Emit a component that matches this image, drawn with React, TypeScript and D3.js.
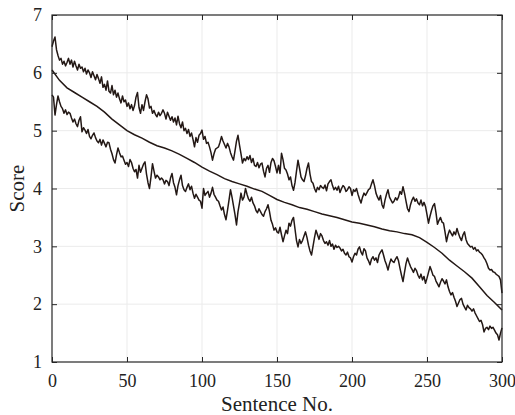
import React, { useEffect, useRef } from "react";
import * as d3 from "d3";

// upper noisy curve, one value per sentence (0..300)
const upperScores = [
  6.45, 6.55, 6.62, 6.4, 6.3, 6.22, 6.25, 6.15, 6.2, 6.12,
  6.18, 6.25, 6.15, 6.22, 6.1, 6.2, 6.12, 6.05, 6.15, 6.08,
  6.1, 6.02, 6.08, 5.98, 6.05, 6.0, 5.92, 6.02, 5.95, 5.88,
  5.97, 5.9, 5.82, 5.93, 5.75, 5.8, 5.7, 5.86, 5.68, 5.65,
  5.78, 5.62, 5.7, 5.58, 5.65, 5.55, 5.48, 5.6, 5.5, 5.53,
  5.42, 5.48, 5.38, 5.45, 5.35, 5.43, 5.58, 5.66, 5.4, 5.3,
  5.45, 5.35, 5.5, 5.62, 5.55, 5.39, 5.42, 5.3, 5.35, 5.28,
  5.24, 5.32, 5.26, 5.3, 5.36, 5.3, 5.2, 5.32, 5.25, 5.18,
  5.24, 5.15, 5.22, 5.1, 5.25, 5.12, 5.05, 5.15, 5.0, 5.04,
  4.95, 5.02, 4.9, 4.96, 4.85, 4.72, 4.88, 4.8, 4.92, 4.95,
  5.01, 4.85, 4.9, 4.78, 4.8, 4.72, 4.62, 4.49, 4.6, 4.68,
  4.7, 4.72, 4.8, 4.9, 4.82, 4.76, 4.7, 4.78, 4.72, 4.62,
  4.55, 4.49, 4.65, 4.82, 4.92, 4.75, 4.6, 4.44, 4.52, 4.48,
  4.55, 4.5, 4.57, 4.45, 4.52, 4.4, 4.38, 4.45, 4.36, 4.42,
  4.44, 4.3, 4.2, 4.35, 4.4, 4.28, 4.45, 4.52, 4.48, 4.38,
  4.27, 4.4, 4.26, 4.61, 4.5, 4.35, 4.32, 4.25, 4.15, 4.2,
  4.05, 3.97, 4.1, 4.3, 4.49, 4.35, 4.2, 4.15, 4.12, 4.22,
  4.35, 4.44, 4.25, 4.12, 4.09, 4.0, 3.94, 4.02, 3.98, 4.05,
  4.02, 4.0, 4.06, 3.96, 4.08, 4.12, 4.15, 4.05, 3.98, 4.02,
  3.97, 4.04, 3.93, 4.0, 4.05, 4.02, 3.95, 3.98, 4.03, 4.0,
  3.88, 3.98, 3.95, 4.0, 3.9, 3.82, 3.75, 3.85, 3.92, 3.88,
  3.93, 3.98, 4.0, 4.08, 4.15, 4.05, 3.92, 3.85, 3.8, 3.88,
  3.72, 3.66, 3.8, 3.9, 3.98, 3.85, 3.8, 3.75, 3.78, 3.84,
  3.8, 3.85, 3.95, 3.9, 4.03, 3.92, 3.78, 3.65, 3.6, 3.72,
  3.8, 3.85, 3.78, 3.82, 3.75, 3.72, 3.8, 3.7, 3.76, 3.69,
  3.55, 3.4, 3.52, 3.62, 3.7, 3.74, 3.58, 3.38, 3.45, 3.5,
  3.42, 3.4, 3.25, 3.08, 3.2, 3.28, 3.23, 3.18, 3.25, 3.2,
  3.31, 3.22, 3.15, 3.1, 3.2, 3.25, 3.12, 3.05, 3.02, 2.99,
  3.0, 2.95, 2.98, 2.92, 2.94, 2.9, 2.88, 2.85, 2.8, 2.76,
  2.7, 2.62, 2.59, 2.6, 2.56, 2.55, 2.52, 2.5, 2.48, 2.42,
  2.19,
];

// lower noisy curve
const lowerScores = [
  5.62, 5.58, 5.27, 5.45, 5.6, 5.5, 5.42, 5.38, 5.3, 5.36,
  5.28, 5.32, 5.3, 5.22, 5.15, 5.2, 5.12, 5.07, 5.18, 5.24,
  4.98, 5.05, 5.01, 4.95, 5.02, 4.9, 4.86, 4.92, 4.96, 4.88,
  4.82, 4.79, 4.85, 4.75, 4.84, 4.78, 4.72, 4.8, 4.79, 4.68,
  4.6, 4.5, 4.44, 4.58, 4.7, 4.62, 4.55, 4.56, 4.49, 4.42,
  4.45, 4.38, 4.5, 4.45, 4.35, 4.29, 4.33, 4.18, 4.4, 4.28,
  4.35, 4.42, 4.46, 4.25, 4.1, 4.0, 4.2, 4.43, 4.3, 4.18,
  4.23, 4.2, 4.15, 4.18, 4.15, 4.08, 4.14, 4.12, 4.05, 4.18,
  4.26, 4.1, 4.02, 3.89, 4.05, 4.15, 4.23, 4.05, 3.98, 3.95,
  4.02, 4.08, 3.98, 4.04, 3.92, 3.83, 3.9, 3.85, 3.8, 3.78,
  3.66, 4.0, 3.88, 3.92, 3.95, 3.85, 3.92, 4.02, 3.9, 3.85,
  3.8, 3.78, 3.7, 3.63, 3.68, 3.55, 3.46, 3.62, 3.8, 3.98,
  3.85, 3.7, 3.55, 3.37, 3.6, 3.75, 3.92, 3.8, 3.85, 4.0,
  3.9, 3.82, 3.78, 3.85, 3.75, 3.7, 3.62, 3.58, 3.65, 3.6,
  3.55, 3.52, 3.6, 3.65, 3.72, 3.6, 3.45, 3.38, 3.28, 3.32,
  3.25, 3.23, 3.33, 3.2, 3.08, 3.18, 3.28, 3.22, 3.4, 3.35,
  3.45, 3.5, 3.3, 3.1, 2.99, 3.12, 3.05, 3.1, 3.18, 3.25,
  3.15, 3.02, 2.92, 2.85, 3.0, 3.15, 3.28, 3.2, 3.12, 3.22,
  3.18, 3.1, 3.05, 3.08, 3.02, 3.1, 3.0, 3.04, 2.95, 3.02,
  2.98, 3.0, 2.97, 2.92, 2.95, 2.88, 2.85, 2.9, 2.82, 2.8,
  2.73, 2.82, 2.88, 2.85, 2.95, 2.99, 2.9, 2.85, 2.96, 2.92,
  2.8, 2.75, 2.68, 2.78, 2.82, 2.76, 2.8, 2.72, 2.85, 2.9,
  2.94, 2.85, 2.75, 2.68, 2.59, 2.7, 2.78, 2.74, 2.72, 2.78,
  2.82, 2.75, 2.62, 2.5, 2.39, 2.55, 2.7, 2.8, 2.72, 2.65,
  2.6, 2.55, 2.62, 2.58, 2.5, 2.45, 2.52, 2.42, 2.48, 2.36,
  2.45, 2.55, 2.65, 2.58, 2.5, 2.48, 2.4, 2.35, 2.3, 2.38,
  2.44, 2.4, 2.35, 2.42, 2.3, 2.22, 2.16, 2.2, 2.12, 2.05,
  1.96, 2.02, 2.08, 2.1, 2.0, 1.95, 1.9, 1.98, 1.94, 1.92,
  1.88, 1.92, 1.85, 1.8, 1.75, 1.7, 1.72, 1.65, 1.52, 1.58,
  1.6, 1.56, 1.62, 1.58, 1.6, 1.55, 1.5, 1.47, 1.38, 1.5,
  1.59,
];

// middle (mean) curve, sampled every 5 sentences
const meanStep = 5;
const meanScores = [
  6.05, 5.87, 5.74, 5.66, 5.58, 5.5, 5.42, 5.32, 5.2, 5.1,
  5.0, 4.93, 4.87, 4.8, 4.74, 4.7, 4.65, 4.59, 4.52, 4.45,
  4.37, 4.3, 4.24, 4.17, 4.12, 4.08, 4.04, 3.99, 3.95, 3.88,
  3.81, 3.76, 3.72, 3.67, 3.64, 3.6, 3.56, 3.53, 3.5, 3.46,
  3.42, 3.4, 3.37, 3.34, 3.3, 3.27, 3.25, 3.22, 3.2, 3.15,
  3.07, 2.98, 2.88, 2.76, 2.66, 2.56, 2.45, 2.3, 2.15, 2.03,
  1.9,
];

const xTicks = [0, 50, 100, 150, 200, 250, 300];
const yTicks = [1, 2, 3, 4, 5, 6, 7];

const App = () => {
  const svgRef = useRef(null);

  useEffect(() => {
    const svg = d3.select(svgRef.current);
    svg.selectAll("*").remove();

    const width = 515;
    const height = 415;
    const margin = { top: 15, right: 13, bottom: 53, left: 52 };
    const font = "'Liberation Serif', 'Times New Roman', serif";
    const ink = "#231815";
    const textColor = "#222";

    const x = d3.scaleLinear().domain([0, 300]).range([margin.left, width - margin.right]);
    const y = d3.scaleLinear().domain([1, 7]).range([height - margin.bottom, margin.top]);

    // grid
    const grid = svg.append("g");
    grid
      .selectAll("line.gx")
      .data(xTicks.slice(1, -1))
      .enter()
      .append("line")
      .attr("x1", (d) => x(d))
      .attr("x2", (d) => x(d))
      .attr("y1", y(1))
      .attr("y2", y(7))
      .attr("stroke", "#ebebeb")
      .attr("stroke-width", 1);
    grid
      .selectAll("line.gy")
      .data(yTicks.slice(1, -1))
      .enter()
      .append("line")
      .attr("x1", x(0))
      .attr("x2", x(300))
      .attr("y1", (d) => y(d))
      .attr("y2", (d) => y(d))
      .attr("stroke", "#ebebeb")
      .attr("stroke-width", 1);

    // curves
    const line = d3
      .line()
      .x((d, i) => x(i))
      .y((d) => y(d));
    const meanLine = d3
      .line()
      .x((d, i) => x(i * meanStep))
      .y((d) => y(d));

    [upperScores, lowerScores].forEach((s) => {
      svg
        .append("path")
        .datum(s)
        .attr("fill", "none")
        .attr("stroke", ink)
        .attr("stroke-width", 1.5)
        .attr("stroke-linejoin", "round")
        .attr("d", line);
    });
    svg
      .append("path")
      .datum(meanScores)
      .attr("fill", "none")
      .attr("stroke", ink)
      .attr("stroke-width", 1.5)
      .attr("d", meanLine);

    // axes (box with inward ticks)
    const axisColor = "#262626";
    const tickIn = (g) => {
      g.select(".domain").remove();
      g.selectAll(".tick line").attr("stroke", axisColor);
      g.selectAll(".tick text")
        .attr("fill", textColor)
        .style("font-family", font)
        .style("font-size", "18px");
    };

    svg
      .append("g")
      .attr("transform", `translate(0,${y(1)})`)
      .call(d3.axisBottom(x).tickValues(xTicks).tickSize(-5).tickPadding(9).tickFormat(d3.format("d")))
      .call(tickIn)
      .selectAll(".tick text")
      .attr("dy", "0.9em");
    svg
      .append("g")
      .attr("transform", `translate(0,${y(7)})`)
      .call(d3.axisTop(x).tickValues(xTicks).tickSize(-5).tickFormat(() => ""))
      .call(tickIn);
    svg
      .append("g")
      .attr("transform", `translate(${x(0)},0)`)
      .call(d3.axisLeft(y).tickValues(yTicks).tickSize(-5).tickPadding(10).tickFormat(d3.format("d")))
      .call(tickIn);
    svg
      .append("g")
      .attr("transform", `translate(${x(300)},0)`)
      .call(d3.axisRight(y).tickValues(yTicks).tickSize(-5).tickFormat(() => ""))
      .call(tickIn);

    svg
      .append("rect")
      .attr("x", x(0))
      .attr("y", y(7))
      .attr("width", x(300) - x(0))
      .attr("height", y(1) - y(7))
      .attr("fill", "none")
      .attr("stroke", axisColor)
      .attr("stroke-width", 1.2);

    // labels
    svg
      .append("text")
      .attr("x", (x(0) + x(300)) / 2)
      .attr("y", 411)
      .attr("text-anchor", "middle")
      .attr("fill", textColor)
      .style("font-family", font)
      .style("font-size", "21px")
      .text("Sentence No.");
    svg
      .append("text")
      .attr("transform", `translate(24,${(y(1) + y(7)) / 2}) rotate(-90)`)
      .attr("text-anchor", "middle")
      .attr("fill", textColor)
      .style("font-family", font)
      .style("font-size", "21px")
      .text("Score");
  }, []);

  return (
    <svg
      ref={svgRef}
      width={515}
      height={415}
      style={{ position: "absolute", left: 0, top: 0, background: "#fff" }}
    ></svg>
  );
};

export default App;
